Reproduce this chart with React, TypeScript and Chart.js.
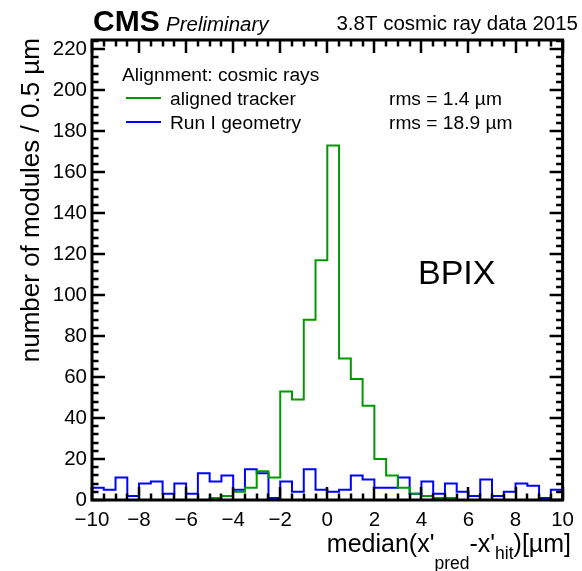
import React, { useEffect, useRef } from 'react';
import { Chart, registerables } from 'chart.js';

Chart.register(...registerables);

const FONT = '"Liberation Sans", Arial, Helvetica, sans-serif';

// Histogram range and binning (µm)
const X_MIN = -10;
const X_MAX = 10;
const BIN_WIDTH = 0.5;
const Y_MIN = 0;
const Y_MAX = 224.5;

// Module counts per 0.5 µm bin, from -10 to +10 µm
const alignedTracker = [
  0, 0, 0, 0, 0, 0, 0, 0, 0, 0,
  1, 2, 4, 6, 14, 11, 53, 49, 88, 117,
  173, 69, 59, 46, 20, 12, 6, 3, 2, 1,
  1, 0, 0, 0, 0, 0, 0, 0, 0, 0,
];
const runIGeometry = [
  6, 5, 11, 2, 8, 9, 3, 8, 3, 13,
  9, 12, 5, 15, 13, 1, 9, 4, 15, 5,
  4, 5, 12, 10, 6, 6, 11, 3, 9, 3,
  8, 4, 2, 10, 2, 4, 8, 7, 1, 5,
];

const xTickValues = [-10, -8, -6, -4, -2, 0, 2, 4, 6, 8, 10];
const yTickValues = [0, 20, 40, 60, 80, 100, 120, 140, 160, 180, 200, 220];

const seriesNames = ['aligned tracker', 'Run I geometry'];
const rmsLabels = ['rms = 1.4 \u00b5m', 'rms = 18.9 \u00b5m'];
const seriesColors = ['rgb(0,153,0)', 'rgb(0,0,255)'];

// Step outline: one point per bin left edge, plus the closing right edge
function toSteps(values: number[]) {
  const pts = values.map((v, i) => ({ x: X_MIN + i * BIN_WIDTH, y: v }));
  pts.push({ x: X_MAX, y: values[values.length - 1] });
  return pts;
}

const framePlugin = {
  id: 'rootFrame',
  afterDatasetsDraw(chart: any) {
    const { ctx, chartArea: a, scales } = chart;
    const xs = scales.x;
    const ys = scales.y;
    ctx.save();
    ctx.strokeStyle = '#000';
    ctx.lineCap = 'butt';
    ctx.lineWidth = 2.5;
    // x ticks (bottom and top), major every 2, minor every 0.5
    for (let k = 0; k <= (X_MAX - X_MIN) / 0.5; k++) {
      const v = X_MIN + k * 0.5;
      const px = Math.round(xs.getPixelForValue(v));
      const major = k % 4 === 0;
      const len = major ? 13 : 6.5;
      ctx.beginPath();
      ctx.moveTo(px, a.bottom);
      ctx.lineTo(px, a.bottom - len);
      ctx.moveTo(px, a.top);
      ctx.lineTo(px, a.top + len);
      ctx.stroke();
    }
    // y ticks (left and right), major every 20, minor every 4
    for (let k = 0; k * 4 <= Y_MAX; k++) {
      const v = k * 4;
      const py = Math.round(ys.getPixelForValue(v));
      const major = k % 5 === 0;
      const len = major ? 13 : 6.5;
      ctx.beginPath();
      ctx.moveTo(a.left, py);
      ctx.lineTo(a.left + len, py);
      ctx.moveTo(a.right, py);
      ctx.lineTo(a.right - len, py);
      ctx.stroke();
    }
    ctx.lineWidth = 3;
    ctx.strokeRect(a.left, a.top, a.right - a.left, a.bottom - a.top);
    ctx.restore();
  },
};

const textPlugin = {
  id: 'rootText',
  afterDraw(chart: any) {
    const { ctx, chartArea: a } = chart;
    ctx.save();
    ctx.fillStyle = '#000';
    ctx.textBaseline = 'alphabetic';

    // Header
    ctx.textAlign = 'left';
    ctx.font = `bold 30px ${FONT}`;
    ctx.fillText('CMS', 93, 31);
    ctx.font = `italic 20.5px ${FONT}`;
    ctx.fillText('Preliminary', 166, 31);
    ctx.textAlign = 'right';
    ctx.font = `20.5px ${FONT}`;
    ctx.fillText('3.8T cosmic ray data 2015', 578, 30);

    // Legend
    ctx.textAlign = 'left';
    ctx.font = `19.2px ${FONT}`;
    ctx.fillText('Alignment: cosmic rays', 122, 81);
    const rows = [98, 122];
    rows.forEach((ry, i) => {
      ctx.strokeStyle = seriesColors[i];
      ctx.lineWidth = 2;
      ctx.beginPath();
      ctx.moveTo(126, ry);
      ctx.lineTo(161, ry);
      ctx.stroke();
      ctx.fillText(seriesNames[i], 170, ry + 7);
      ctx.fillText(rmsLabels[i], 389, ry + 7);
    });

    // Detector label
    ctx.font = `34px ${FONT}`;
    ctx.fillText('BPIX', 418, 284);

    // Y axis title
    ctx.save();
    ctx.translate(39, a.top - 2);
    ctx.rotate(-Math.PI / 2);
    ctx.textAlign = 'right';
    ctx.font = `26px ${FONT}`;
    ctx.fillText('number of modules / 0.5 \u00b5m', 0, 0);
    ctx.restore();

    // X axis title with subscripts, right-aligned to the frame
    const main = `25px ${FONT}`;
    const sub = `17.5px ${FONT}`;
    const parts: [string, string, number][] = [
      ["median(x'", main, 552],
      ['pred', sub, 569],
      ["-x'", main, 552],
      ['hit', sub, 559],
      [')[\u00b5m]', main, 552],
    ];
    let total = 0;
    parts.forEach(([t, f]) => {
      ctx.font = f;
      total += ctx.measureText(t).width;
    });
    let cx = 571 - total;
    ctx.textAlign = 'left';
    parts.forEach(([t, f, by]) => {
      ctx.font = f;
      ctx.fillText(t, cx, by);
      cx += ctx.measureText(t).width;
    });
    ctx.restore();
  },
};

export default function App() {
  const canvasRef = useRef<HTMLCanvasElement | null>(null);

  useEffect(() => {
    const canvas = canvasRef.current;
    if (!canvas) return;
    const chart = new Chart(canvas, {
      type: 'line',
      data: {
        datasets: [
          {
            label: seriesNames[0],
            data: toSteps(alignedTracker),
            stepped: 'before',
            borderColor: seriesColors[0],
            borderWidth: 2,
            pointRadius: 0,
            fill: false,
          },
          {
            label: seriesNames[1],
            data: toSteps(runIGeometry),
            stepped: 'before',
            borderColor: seriesColors[1],
            borderWidth: 2,
            pointRadius: 0,
            fill: false,
          },
        ],
      },
      options: {
        responsive: false,
        animation: false,
        events: [],
        layout: { padding: { top: 40, right: 12, left: 0, bottom: 0 } },
        plugins: {
          legend: { display: false },
          tooltip: { enabled: false },
        },
        scales: {
          x: {
            type: 'linear',
            min: X_MIN,
            max: X_MAX,
            grid: { display: false, drawTicks: false },
            border: { display: false },
            afterFit: (s: any) => {
              s.height = 71;
            },
            afterBuildTicks: (s: any) => {
              s.ticks = xTickValues.map((v) => ({ value: v }));
            },
            ticks: {
              padding: 8,
              maxRotation: 0,
              autoSkip: false,
              color: '#000',
              font: { family: FONT, size: 20.5 },
              callback: (v: any) => (Number(v) < 0 ? '\u2212' + Math.abs(Number(v)) : String(v)),
            },
          },
          y: {
            type: 'linear',
            min: Y_MIN,
            max: Y_MAX,
            grid: { display: false, drawTicks: false },
            border: { display: false },
            afterFit: (s: any) => {
              s.width = 92;
            },
            afterBuildTicks: (s: any) => {
              s.ticks = yTickValues.map((v) => ({ value: v }));
            },
            ticks: {
              padding: 5,
              autoSkip: false,
              color: '#000',
              font: { family: FONT, size: 20.5 },
              callback: (v: any) => String(v),
            },
          },
        },
      },
      plugins: [framePlugin, textPlugin],
    });
    return () => chart.destroy();
  }, []);

  return (
    <div style={{ position: 'fixed', left: 0, top: 0, width: 582, height: 571, background: '#fff' }}>
      <canvas ref={canvasRef} width={582} height={571} style={{ display: 'block' }} />
    </div>
  );
}
